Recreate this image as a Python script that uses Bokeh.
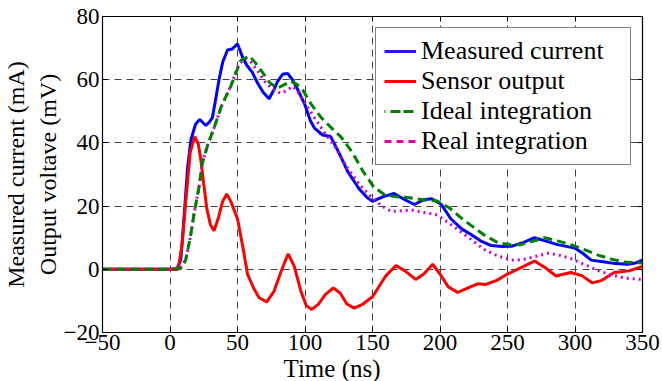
from bokeh.plotting import figure
from bokeh.models import (FixedTicker, LinearAxis, Range1d, Legend, LegendItem, Title,
                          CustomJSTickFormatter)
from bokeh.embed import file_html
from bokeh.resources import INLINE

x_ticks = [-50, 0, 50, 100, 150, 200, 250, 300, 350]
y_ticks = [-20, 0, 20, 40, 60, 80]

t_meas = [-50, 0, 5, 8, 11, 13, 15.5, 19, 22, 26.5, 29, 31.4, 33.5, 36.3, 39, 42.6, 46, 48, 50,
          53.7, 57, 61, 64.8, 69, 73.4, 77, 79.7, 83.4, 87, 90.8, 95, 100, 104, 107, 113, 119,
          125, 131.6, 140, 146, 150, 158, 166, 174, 181, 188, 194, 201, 208, 216, 223, 230, 238,
          246, 253, 262, 270, 278, 287, 300, 306, 312, 322, 330, 339, 345, 350]
i_meas = [0, 0, 0, 3, 20, 32, 41, 46, 47.4, 45.5, 46.5, 48, 53, 60, 65.5, 69.4, 69.7, 70.5, 71.4,
          67.2, 64.5, 62.3, 59, 56, 54, 56.8, 59.5, 61.7, 62, 60, 56.5, 52, 47, 44.7, 42.5, 42,
          37, 31, 25.5, 22.7, 21.5, 23, 24, 22, 20.5, 22, 22.3, 20.5, 16, 12.8, 11, 9, 7.5,
          7.2, 7.3, 8.5, 10, 9, 7.8, 6.7, 5, 2.9, 2.3, 1.8, 1.6, 2, 2.9]

t_sens = [-50, 0, 6, 9, 12, 15, 18.3, 21, 22.8, 25, 27.2, 30, 32.6, 36, 39, 42, 45, 50, 54, 57.4,
          62, 66, 71.7, 77, 82, 87.5, 92, 97, 101, 105, 110, 115, 121, 126, 131, 136.5, 143, 150,
          154, 160, 167.4, 174, 182, 188, 194.6, 200, 206, 213, 220, 228, 234, 242, 250, 260, 270,
          278, 286, 292, 297, 305, 313, 320, 329, 340, 350]
v_sens = [0, 0, 0, 8, 23, 37, 42, 39.5, 34.8, 27, 19.4, 14, 12.2, 16.5, 21.5, 23.8, 21.5, 16, 7, -1.5,
          -6, -9, -10.3, -7, -1, 4.9, 1, -7, -11.5, -12.7, -11, -8, -5.9, -7.5, -11, -12.3, -11, -8.7,
          -6, -2, 1.2, -0.5, -3.2, -1.5, 1.6, -1.5, -5.5, -7.3, -6, -4.6, -4.8, -3.5, -1.5, 0.5, 2.6,
          0.5, -2.1, -1.5, -1, -2, -4.3, -3.5, -1, -0.5, 0.9]

t_ideal = [-50, 0, 8, 11.6, 15, 18, 21.5, 24, 28, 32.6, 38, 45, 52.4, 58.6, 63, 68.5, 74, 79.7, 85,
           89.5, 94, 98.2, 105, 112, 119, 126.6, 135, 143, 151, 159, 167, 176, 187, 198, 207, 215,
           223, 233, 243, 252, 260, 268, 277.5, 287, 297, 307, 317, 327, 337, 344, 350]
v_ideal = [0, 0, 0.5, 2.9, 10, 18, 26, 33.7, 39.5, 44.7, 51.5, 57.9, 66.1, 67.5, 65.5, 62.3, 59, 57.3,
           58.5, 59.5, 58.5, 56.8, 52, 48, 45, 41.9, 37, 31, 26, 23.6, 23, 22.7, 22, 21.6, 19.4, 16.5,
           13.9, 10.8, 8.4, 7.8, 7.8, 8.8, 10, 9, 7.8, 6.2, 4.5, 3.2, 2.3, 2.1, 2]

t_real = [-50, 0, 8, 11.6, 15, 18, 21.5, 24, 28, 32.6, 38, 45, 51, 56, 60, 65, 70, 76, 82, 86, 91,
          95, 101, 107, 114, 121.7, 130, 140, 149.5, 157, 164, 171, 178.5, 188, 198, 207, 216, 225,
          233, 243, 253, 259, 265, 272, 280, 288, 297, 307, 317, 327, 337, 350]
v_real = [0, 0, 0.5, 2.9, 10, 18, 26, 33.7, 39.5, 44.7, 51.5, 58, 65, 66.7, 65.5, 62.8, 59.5, 57,
          55.7, 56.5, 57.9, 56, 52, 48, 43.5, 39.2, 33, 27, 22.7, 20, 18.3, 18.5, 18.8, 18, 17.2,
          14.5, 11.7, 8.8, 6.2, 4.2, 2.9, 3, 3.4, 4.2, 5.1, 4.5, 3.4, 1.5, -0.4, -1.8, -2.8, -3.2]

names = ["Measured current", "Sensor output", "Ideal integration", "Real integration"]
x_label = "Time (ns)"
y_label = "Measured current (mA)\nOutput voltave (mV)"

FONT = "Liberation Serif"

p = figure(width=662, height=381, output_backend="svg", toolbar_location=None,
           x_range=Range1d(x_ticks[0], x_ticks[-1]), y_range=Range1d(y_ticks[0], y_ticks[-1]),
           min_border_left=102, min_border_right=20, min_border_top=16, min_border_bottom=10)

p.outline_line_color = "black"
p.outline_line_width = 1.2
p.background_fill_color = "white"
p.border_fill_color = "white"

blank = CustomJSTickFormatter(code="return ''")
for loc, tick in (("right", y_ticks), ("above", x_ticks)):
    a = LinearAxis(ticker=FixedTicker(ticks=tick), formatter=blank,
                   major_tick_in=5, major_tick_out=0, minor_tick_line_color=None,
                   axis_line_color="black", major_label_standoff=0)
    p.add_layout(a, loc)

xa = p.below[0]
ya = p.left[0]
for ax in (xa, ya):
    ax.major_label_text_font = FONT
    ax.major_label_text_font_size = "23px"
    ax.major_label_text_color = "black"
    ax.axis_label_text_font = FONT
    ax.axis_label_text_font_size = "24px"
    ax.axis_label_text_font_style = "normal"
    ax.axis_label_text_color = "black"
    ax.major_tick_in = 5
    ax.major_tick_out = 0
    ax.minor_tick_line_color = None
    ax.axis_line_color = "black"
    ax.major_tick_line_color = "black"

xa.ticker = FixedTicker(ticks=x_ticks)
ya.ticker = FixedTicker(ticks=y_ticks)
ya.axis_label = y_label
xa.major_label_standoff = 2
ya.major_label_standoff = 3
ya.axis_label_standoff = 0

p.add_layout(Title(text=x_label, align="left", offset=181, standoff=0,
                   text_font=FONT, text_font_size="25px", text_font_style="normal",
                   text_color="black"), "below")

for g in (p.xgrid[0], p.ygrid[0]):
    g.grid_line_color = "#444444"
    g.grid_line_dash = "7 5"
    g.grid_line_width = 1
p.xgrid[0].ticker = FixedTicker(ticks=x_ticks)
p.ygrid[0].ticker = FixedTicker(ticks=y_ticks)

p.line(t_meas, i_meas, line_color="#0000ff", line_width=3)
p.line(t_sens, v_sens, line_color="#ff0000", line_width=3)
p.line(t_real, v_real, line_color="#cc00cc", line_width=3, line_dash="2 4")
p.line(t_ideal, v_ideal, line_color="#008000", line_width=3, line_dash="9 5")

r1 = p.line(t_meas[:1], i_meas[:1], line_color="#2a10ff", line_width=3)
r2 = p.line(t_sens[:1], v_sens[:1], line_color="#ff0000", line_width=3)
r3 = p.line(t_ideal[:1], v_ideal[:1], line_color="#008000", line_width=3, line_dash="1 5 10 3 10 3")
r4 = p.line(t_real[:1], v_real[:1], line_color="#dd00aa", line_width=3, line_dash="7 5")

legend = Legend(items=[LegendItem(label=names[0], renderers=[r1]),
                       LegendItem(label=names[1], renderers=[r2]),
                       LegendItem(label=names[2], renderers=[r3]),
                       LegendItem(label=names[3], renderers=[r4])],
                location="top_right", margin=11)
legend.label_text_font = FONT
legend.label_text_font_size = "26px"
legend.label_text_color = "black"
legend.glyph_width = 32
legend.glyph_height = 28
legend.label_height = 28
legend.label_width = 201
legend.label_standoff = 5
legend.spacing = 0
legend.padding = 8
legend.border_line_color = "black"
legend.border_line_width = 1
legend.background_fill_alpha = 1
p.add_layout(legend, "center")

open("out.html", "w").write(file_html(p, INLINE))
